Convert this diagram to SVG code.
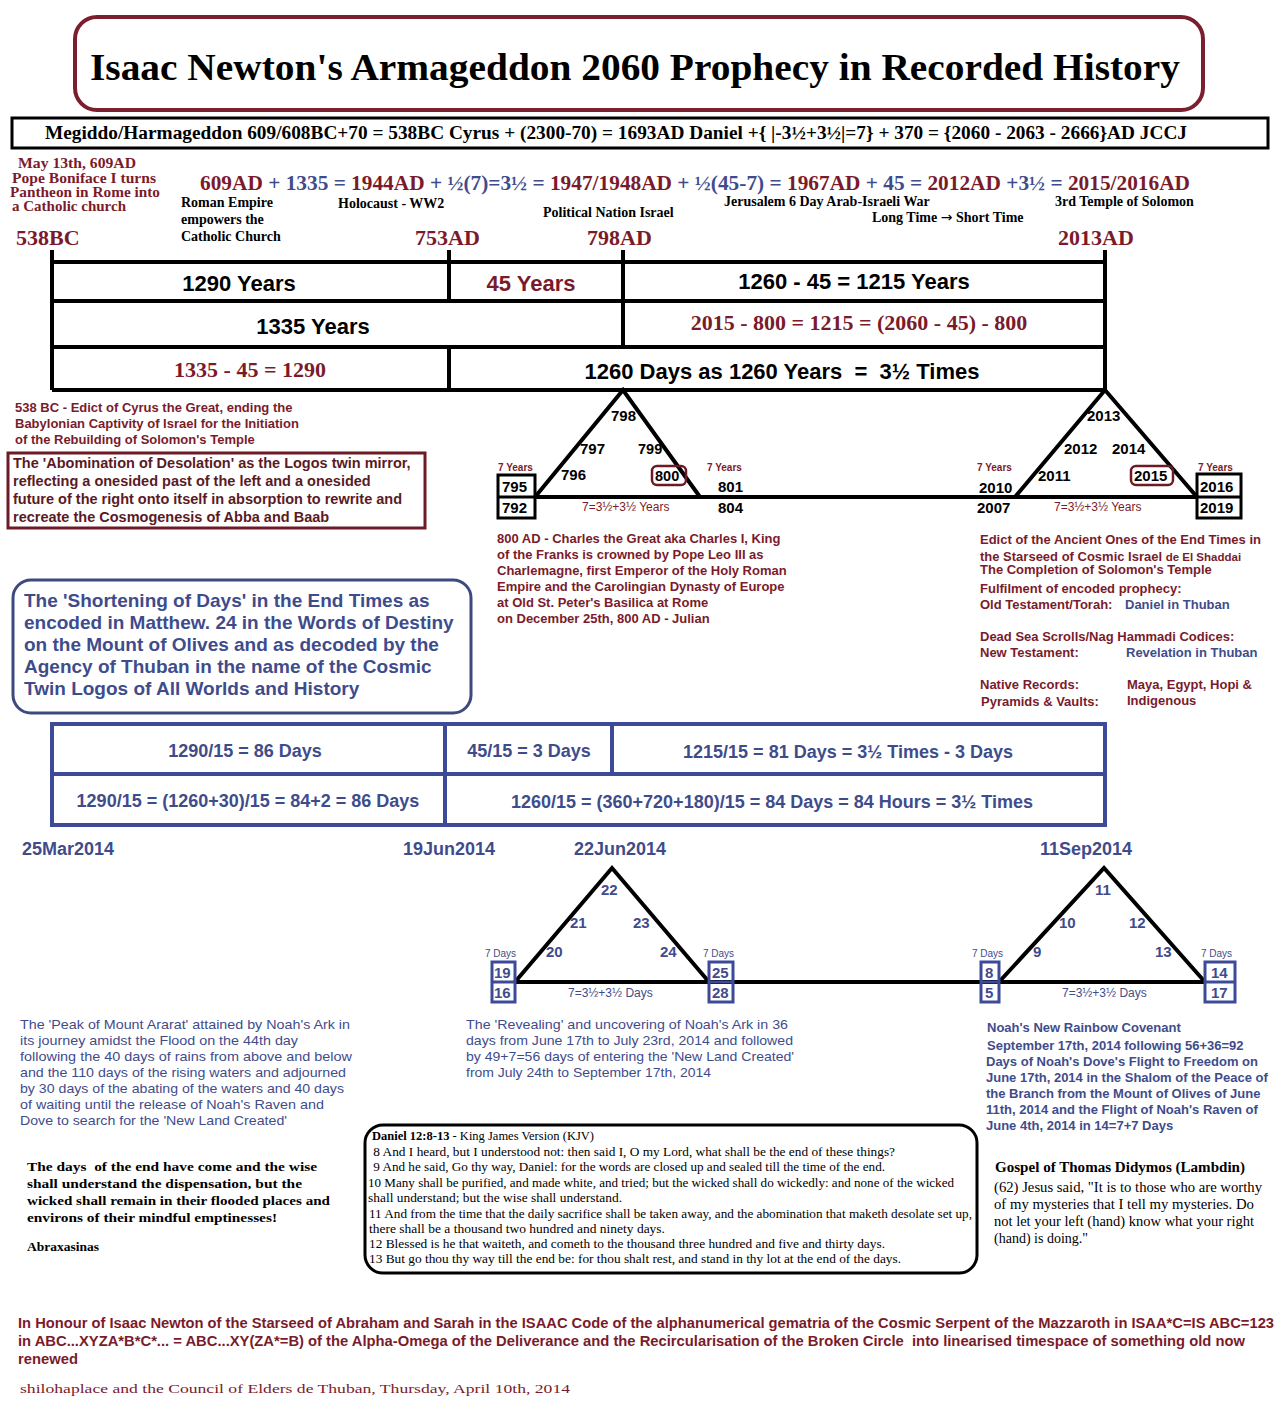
<svg xmlns="http://www.w3.org/2000/svg" width="1280" height="1402" viewBox="0 0 1280 1402">
<style>
.sb{font-family:"Liberation Sans",Arial,sans-serif;font-weight:bold}
.sr{font-family:"Liberation Serif","Times New Roman",serif}
.srb{font-family:"Liberation Serif","Times New Roman",serif;font-weight:bold}
.red{fill:#7a1b2b}
.blue{fill:#3f4c8c}
.blk{fill:#000}
.ln{stroke:#000;stroke-width:4;fill:none}
.bl{stroke:#3d4a99;stroke-width:4;fill:none}
.mid{text-anchor:middle}
</style>
<rect width="1280" height="1402" fill="#fff"/>

<g id="title">
<rect x="75" y="17" width="1128" height="93" rx="22" fill="#fff" stroke="#7a1f2e" stroke-width="4"/>
<text x="90" y="80" class="srb blk" font-size="38" textLength="1090" lengthAdjust="spacingAndGlyphs">Isaac Newton's Armageddon 2060 Prophecy in Recorded History</text>
</g>

<g id="header">
<rect x="12" y="118" width="1256" height="30" fill="#fff" stroke="#000" stroke-width="3"/>
<text x="45" y="139" class="srb blk" font-size="18" textLength="1142" lengthAdjust="spacingAndGlyphs">Megiddo/Harmageddon 609/608BC+70 = 538BC Cyrus + (2300-70) = 1693AD Daniel +{ |-3½+3½|=7} + 370 = {2060 - 2063 - 2666}AD JCCJ</text>
</g>

<g id="pantheon" class="srb red" font-size="15">
<text x="18" y="168" textLength="118" lengthAdjust="spacingAndGlyphs">May 13th, 609AD</text>
<text x="12" y="183" textLength="144" lengthAdjust="spacingAndGlyphs">Pope Boniface I turns</text>
<text x="10" y="197" textLength="150" lengthAdjust="spacingAndGlyphs">Pantheon in Rome into</text>
<text x="12" y="211" textLength="114" lengthAdjust="spacingAndGlyphs">a Catholic church</text>
</g>

<g id="equation">
<text x="200" y="190" class="srb" font-size="21" textLength="990" lengthAdjust="spacingAndGlyphs"><tspan class="red">609AD</tspan><tspan class="blue"> + 1335 = </tspan><tspan class="red">1944AD</tspan><tspan class="blue"> + ½(7)=3½ = </tspan><tspan class="red">1947/1948AD</tspan><tspan class="blue"> + ½(45-7) = </tspan><tspan class="red">1967AD</tspan><tspan class="blue"> + 45 = </tspan><tspan class="red">2012AD</tspan><tspan class="blue"> +3½ = </tspan><tspan class="red">2015/2016AD</tspan></text>
</g>

<g id="events" class="srb blk" font-size="14">
<text x="181" y="207">Roman Empire</text>
<text x="181" y="224">empowers the</text>
<text x="181" y="241">Catholic Church</text>
<text x="338" y="208">Holocaust - WW2</text>
<text x="543" y="217">Political Nation Israel</text>
<text x="724" y="206">Jerusalem 6 Day Arab-Israeli War</text>
<text x="872" y="222">Long Time <tspan font-family="'DejaVu Sans',sans-serif" font-weight="normal">→</tspan> Short Time</text>
<text x="1055" y="206">3rd Temple of Solomon</text>
</g>

<g id="years" class="srb red" font-size="22">
<text x="16" y="245">538BC</text>
<text x="415" y="245">753AD</text>
<text x="587" y="245">798AD</text>
<text x="1058" y="245">2013AD</text>
</g>

<g id="connectors">
<path class="ln" d="M52 250V390M1105 250V390M449 250V301M449 347V390M623 250V347M52 262H1105M52 301H1105M52 347H1105M52 390H1105"/>
<path class="ln" d="M535 497L623 390L700 497M1015 497L1105 390L1197 497M535 497H1197"/>
<path class="ln" stroke-width="3.5" d="M515 982L612 868L709 982M999 982L1104 868L1205 982M515 982H1205"/>
</g>

<g id="table-years" font-size="22">
<text x="239" y="291" class="sb blk mid">1290 Years</text>
<text x="531" y="291" class="sb red mid">45 Years</text>
<text x="854" y="289" class="sb blk mid">1260 - 45 = 1215 Years</text>
<text x="313" y="334" class="sb blk mid">1335 Years</text>
<text x="859" y="330" class="srb red mid">2015 - 800 = 1215 = (2060 - 45) - 800</text>
<text x="250" y="377" class="srb red mid">1335 - 45 = 1290</text>
<text x="782" y="379" class="sb blk mid" xml:space="preserve">1260 Days as 1260 Years  =  3½ Times</text>
</g>

<g id="triangle-798" class="sb blk" font-size="15">
<rect x="498" y="475" width="37" height="43" fill="none" stroke="#000" stroke-width="3"/>
<line x1="498" y1="497" x2="535" y2="497" stroke="#000" stroke-width="3"/>
<text x="502" y="492">795</text>
<text x="502" y="513">792</text>
<text x="611" y="421">798</text>
<text x="580" y="454">797</text>
<text x="638" y="454" font-size="14.5">799</text>
<text x="561" y="480">796</text>
<rect x="652" y="466" width="34" height="19" rx="5" fill="none" stroke="#6b1a26" stroke-width="2.5"/>
<text x="655" y="481" font-size="14.5">800</text>
<text x="718" y="492">801</text>
<text x="718" y="513">804</text>
<text x="498" y="471" class="red" font-size="10">7 Years</text>
<text x="707" y="471" class="red" font-size="10">7 Years</text>
<text x="582" y="511" class="red" font-size="12" font-weight="normal">7=3½+3½ Years</text>
</g>

<g id="triangle-2013" class="sb blk" font-size="15">
<rect x="1197" y="474" width="44" height="44" fill="none" stroke="#000" stroke-width="3"/>
<line x1="1197" y1="497" x2="1241" y2="497" stroke="#000" stroke-width="3"/>
<text x="1200" y="492">2016</text>
<text x="1200" y="513">2019</text>
<text x="1087" y="421">2013</text>
<text x="1064" y="454">2012</text>
<text x="1112" y="454">2014</text>
<text x="1038" y="481">2011</text>
<rect x="1131" y="466" width="42" height="19" rx="5" fill="none" stroke="#6b1a26" stroke-width="2.5"/>
<text x="1134" y="481">2015</text>
<text x="979" y="493">2010</text>
<text x="977" y="513">2007</text>
<text x="977" y="471" class="red" font-size="10">7 Years</text>
<text x="1198" y="471" class="red" font-size="10">7 Years</text>
<text x="1054" y="511" class="red" font-size="12" font-weight="normal">7=3½+3½ Years</text>
</g>

<g id="cyrus" class="sb red" font-size="13">
<text x="15" y="412">538 BC - Edict of Cyrus the Great, ending the</text>
<text x="15" y="428">Babylonian Captivity of Israel for the Initiation</text>
<text x="15" y="444">of the Rebuilding of Solomon's Temple</text>
</g>

<g id="abomination">
<rect x="8" y="453" width="417" height="75" fill="none" stroke="#6b1a26" stroke-width="3"/>
<g class="sb" fill="#5a1a25" font-size="14.5">
<text x="13" y="468">The 'Abomination of Desolation' as the Logos twin mirror,</text>
<text x="13" y="486">reflecting a onesided past of the left and a onesided</text>
<text x="13" y="504">future of the right onto itself in absorption to rewrite and</text>
<text x="13" y="522">recreate the Cosmogenesis of Abba and Baab</text>
</g>
</g>

<g id="charlemagne" class="sb red" font-size="13">
<text x="497" y="543">800 AD - Charles the Great aka Charles I, King</text>
<text x="497" y="559">of the Franks is crowned by Pope Leo III as</text>
<text x="497" y="575">Charlemagne,  first Emperor of the Holy Roman</text>
<text x="497" y="591">Empire and the Carolingian Dynasty of Europe</text>
<text x="497" y="607">at Old St. Peter's Basilica at Rome</text>
<text x="497" y="623">on December 25th, 800 AD - Julian</text>
</g>

<g id="edict" class="sb red" font-size="13">
<text x="980" y="544">Edict of the Ancient Ones of the End Times in</text>
<text x="980" y="561">the Starseed of Cosmic Israel <tspan font-size="11.5">de El Shaddai</tspan></text>
<text x="980" y="574">The Completion of Solomon's Temple</text>
<text x="980" y="593">Fulfilment of encoded prophecy:</text>
<text x="980" y="609">Old Testament/Torah:</text>
<text x="1125" y="609" class="blue">Daniel in Thuban</text>
<text x="980" y="641">Dead Sea Scrolls/Nag Hammadi Codices:</text>
<text x="980" y="657">New Testament:</text>
<text x="1126" y="657" class="blue">Revelation in Thuban</text>
<text x="980" y="689">Native Records:</text>
<text x="1127" y="689">Maya, Egypt, Hopi &amp;</text>
<text x="981" y="706">Pyramids &amp; Vaults:</text>
<text x="1127" y="705">Indigenous</text>
</g>

<g id="shortening">
<rect x="13" y="580" width="458" height="133" rx="18" fill="none" stroke="#3c4a80" stroke-width="3"/>
<g class="sb blue" font-size="19">
<text x="24" y="607">The 'Shortening of Days' in the End Times as</text>
<text x="24" y="629">encoded in Matthew. 24 in the Words of Destiny</text>
<text x="24" y="651">on the Mount of Olives and as decoded by the</text>
<text x="24" y="673">Agency of Thuban in the name of the Cosmic</text>
<text x="24" y="695">Twin Logos of All Worlds and History</text>
</g>
</g>

<g id="table-days">
<path class="bl" d="M52 724H1105V825H52ZM52 774H1105M445 724V825M612 724V774"/>
<g class="sb blue mid" font-size="18">
<text x="245" y="757">1290/15 = 86 Days</text>
<text x="529" y="757">45/15 = 3 Days</text>
<text x="848" y="758">1215/15 = 81 Days = 3½ Times - 3 Days</text>
<text x="248" y="807">1290/15 = (1260+30)/15 = 84+2 = 86 Days</text>
<text x="772" y="808">1260/15 = (360+720+180)/15 = 84 Days = 84 Hours = 3½ Times</text>
</g>
</g>

<g id="dates" class="sb blue" font-size="18">
<text x="22" y="855">25Mar2014</text>
<text x="403" y="855">19Jun2014</text>
<text x="574" y="855">22Jun2014</text>
<text x="1040" y="855">11Sep2014</text>
</g>

<g id="triangle-22" class="sb blue" font-size="15">
<rect x="492" y="962" width="23" height="40" fill="none" stroke="#3d4a99" stroke-width="3"/>
<line x1="492" y1="982" x2="515" y2="982" stroke="#3d4a99" stroke-width="3"/>
<text x="494" y="978">19</text>
<text x="494" y="998">16</text>
<text x="601" y="895">22</text>
<text x="570" y="928">21</text>
<text x="633" y="928">23</text>
<text x="546" y="957">20</text>
<text x="660" y="957">24</text>
<rect x="709" y="962" width="24" height="40" fill="none" stroke="#3d4a99" stroke-width="3"/>
<line x1="709" y1="982" x2="733" y2="982" stroke="#3d4a99" stroke-width="3"/>
<text x="712" y="978">25</text>
<text x="712" y="998">28</text>
<text x="485" y="957" font-size="10" font-weight="normal">7 Days</text>
<text x="703" y="957" font-size="10" font-weight="normal">7 Days</text>
<text x="568" y="997" font-size="12" font-weight="normal">7=3½+3½ Days</text>
</g>

<g id="triangle-11" class="sb blue" font-size="15">
<rect x="981" y="962" width="18" height="40" fill="none" stroke="#3d4a99" stroke-width="3"/>
<line x1="981" y1="982" x2="999" y2="982" stroke="#3d4a99" stroke-width="3"/>
<text x="985" y="978">8</text>
<text x="985" y="998">5</text>
<text x="1095" y="895">11</text>
<text x="1059" y="928">10</text>
<text x="1129" y="928">12</text>
<text x="1033" y="957">9</text>
<text x="1155" y="957">13</text>
<rect x="1205" y="962" width="30" height="40" fill="none" stroke="#3d4a99" stroke-width="3"/>
<line x1="1205" y1="982" x2="1235" y2="982" stroke="#3d4a99" stroke-width="3"/>
<text x="1211" y="978">14</text>
<text x="1211" y="998">17</text>
<text x="972" y="957" font-size="10" font-weight="normal">7 Days</text>
<text x="1201" y="957" font-size="10" font-weight="normal">7 Days</text>
<text x="1062" y="997" font-size="12" font-weight="normal">7=3½+3½ Days</text>
</g>

<g id="ararat" class="blue" font-family="'Liberation Sans Narrow','Liberation Sans',Arial,sans-serif" font-size="13.5">
<text x="20" y="1029" textLength="330" lengthAdjust="spacingAndGlyphs">The 'Peak of Mount Ararat' attained by Noah's Ark in</text>
<text x="20" y="1045" textLength="278" lengthAdjust="spacingAndGlyphs">its journey amidst the Flood on the 44th day</text>
<text x="20" y="1061" textLength="332" lengthAdjust="spacingAndGlyphs">following the 40 days of rains from above and below</text>
<text x="20" y="1077" textLength="326" lengthAdjust="spacingAndGlyphs">and the 110 days of the rising waters and adjourned</text>
<text x="20" y="1093" textLength="324" lengthAdjust="spacingAndGlyphs">by 30 days of the abating of the waters and 40 days</text>
<text x="20" y="1109" textLength="304" lengthAdjust="spacingAndGlyphs">of waiting until the release of Noah's Raven and</text>
<text x="20" y="1125" textLength="267" lengthAdjust="spacingAndGlyphs">Dove to search for the 'New Land Created'</text>
</g>

<g id="revealing" class="blue" font-family="'Liberation Sans Narrow','Liberation Sans',Arial,sans-serif" font-size="13.5">
<text x="466" y="1029" textLength="322" lengthAdjust="spacingAndGlyphs">The 'Revealing' and uncovering of Noah's Ark in 36</text>
<text x="466" y="1045" textLength="327" lengthAdjust="spacingAndGlyphs">days from June 17th to July 23rd, 2014 and followed</text>
<text x="466" y="1061" textLength="328" lengthAdjust="spacingAndGlyphs">by 49+7=56 days of entering the 'New Land Created'</text>
<text x="466" y="1077" textLength="245" lengthAdjust="spacingAndGlyphs">from July 24th to September 17th, 2014</text>
</g>

<g id="covenant" class="sb blue" font-size="13">
<text x="987" y="1032">Noah's New Rainbow Covenant</text>
<text x="987" y="1050">September 17th, 2014 following 56+36=92</text>
<text x="986" y="1066">Days of Noah's Dove's Flight to Freedom on</text>
<text x="986" y="1082">June 17th, 2014 in the Shalom of the Peace of</text>
<text x="986" y="1098">the Branch from the Mount of Olives of June</text>
<text x="986" y="1114">11th, 2014 and the Flight of Noah's Raven of</text>
<text x="986" y="1130">June 4th, 2014 in 14=7+7 Days</text>
</g>

<g id="daniel">
<rect x="365" y="1125" width="612" height="148" rx="18" fill="#fff" stroke="#000" stroke-width="3"/>
<g class="sr blk" font-size="12.5">
<text x="372" y="1140"><tspan font-weight="bold">Daniel 12:8-13</tspan> - King James Version (KJV)</text>
<text x="370" y="1156" textLength="525" lengthAdjust="spacingAndGlyphs" xml:space="preserve"> 8 And I heard, but I understood not: then said I, O my Lord, what shall be the end of these things?</text>
<text x="370" y="1171" textLength="515" lengthAdjust="spacingAndGlyphs" xml:space="preserve"> 9 And he said, Go thy way, Daniel: for the words are closed up and sealed till the time of the end.</text>
<text x="368" y="1187" textLength="586" lengthAdjust="spacingAndGlyphs">10 Many shall be purified, and made white, and tried; but the wicked shall do wickedly: and none of the wicked</text>
<text x="368" y="1202" textLength="254" lengthAdjust="spacingAndGlyphs">shall understand; but the wise shall understand.</text>
<text x="369" y="1218" textLength="603" lengthAdjust="spacingAndGlyphs">11 And from the time that the daily sacrifice shall be taken away, and the abomination that maketh desolate set up,</text>
<text x="369" y="1233" textLength="296" lengthAdjust="spacingAndGlyphs">there shall be a thousand two hundred and ninety days.</text>
<text x="369" y="1248" textLength="516" lengthAdjust="spacingAndGlyphs">12 Blessed is he that waiteth, and cometh to the thousand three hundred and five and thirty days.</text>
<text x="369" y="1263" textLength="532" lengthAdjust="spacingAndGlyphs">13 But go thou thy way till the end be: for thou shalt rest, and stand in thy lot at the end of the days.</text>
</g>
</g>

<g id="abraxasinas" class="srb blk" font-size="13.5">
<text x="27" y="1171" xml:space="preserve" textLength="290" lengthAdjust="spacingAndGlyphs">The days  of the end have come and the wise</text>
<text x="27" y="1188" textLength="275" lengthAdjust="spacingAndGlyphs">shall understand the dispensation, but the</text>
<text x="27" y="1205" textLength="303" lengthAdjust="spacingAndGlyphs">wicked shall remain in their flooded places and</text>
<text x="27" y="1222" textLength="250" lengthAdjust="spacingAndGlyphs">environs of their mindful emptinesses!</text>
<text x="27" y="1251">Abraxasinas</text>
</g>

<g id="thomas" class="sr blk" font-size="14">
<text x="995" y="1172" font-weight="bold" textLength="250" lengthAdjust="spacingAndGlyphs">Gospel of Thomas Didymos (Lambdin)</text>
<text x="994" y="1192" textLength="268" lengthAdjust="spacingAndGlyphs">(62) Jesus said, "It is to those who are worthy</text>
<text x="994" y="1209" textLength="260" lengthAdjust="spacingAndGlyphs">of my mysteries that I tell my mysteries. Do</text>
<text x="994" y="1226" textLength="260" lengthAdjust="spacingAndGlyphs">not let your left (hand) know what your right</text>
<text x="994" y="1243">(hand) is doing."</text>
</g>

<g id="honour" class="red" font-family="'Liberation Sans Narrow','Liberation Sans',Arial,sans-serif" font-weight="bold" font-size="14">
<text x="18" y="1328" textLength="1256" lengthAdjust="spacingAndGlyphs">In Honour of Isaac Newton of the Starseed of Abraham and Sarah in the ISAAC Code of the alphanumerical gematria of the Cosmic Serpent of the Mazzaroth in ISAA*C=IS ABC=123</text>
<text x="18" y="1346" textLength="1227" lengthAdjust="spacingAndGlyphs" xml:space="preserve">in ABC...XYZA*B*C*... = ABC...XY(ZA*=B) of the Alpha-Omega of the Deliverance and the Recircularisation of the Broken Circle  into linearised timespace of something old now</text>
<text x="18" y="1364" textLength="60" lengthAdjust="spacingAndGlyphs">renewed</text>
</g>

<g id="signature">
<text x="20" y="1393" class="sr red" font-size="13.5" textLength="550" lengthAdjust="spacingAndGlyphs">shilohaplace and the Council of Elders de Thuban, Thursday, April 10th, 2014</text>
</g>
</svg>
